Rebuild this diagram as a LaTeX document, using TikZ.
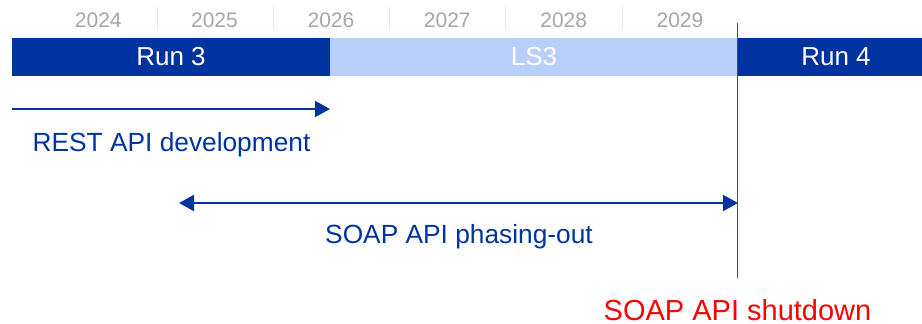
\documentclass[tikz,border=0pt]{standalone}
\usepackage{fontspec}
\setmainfont{Liberation Sans}
\usetikzlibrary{arrows.meta}
\definecolor{darkblue}{HTML}{0033A0}
\definecolor{lightblue}{HTML}{B9CFFB}
\definecolor{yeargray}{HTML}{A6A6A6}
\definecolor{sepgray}{HTML}{E6E6E6}
\definecolor{shutred}{RGB}{255,0,0}
\begin{document}
\begin{tikzpicture}[x=1pt,y=-1pt,
  yearlbl/.style={anchor=base,text=yeargray,inner sep=0pt,font=\fontsize{21}{24}\selectfont},
  sepline/.style={draw=sepgray,line width=1pt},
  bar/.style={inner sep=0pt,minimum height=38pt,text=white,font=\fontsize{26}{30}\selectfont},
  bluetxt/.style={anchor=base,inner sep=0pt,text=darkblue,font=\fontsize{26.3}{30}\selectfont},
  bluearrow/.style={draw=darkblue,line width=2pt,-{Triangle[length=15pt,width=16pt]}},
  bluedarrow/.style={draw=darkblue,line width=2pt,{Triangle[length=15pt,width=16pt]}-{Triangle[length=15pt,width=16pt]}}
]
\useasboundingbox (0,0) rectangle (922,324);
% year labels
\node[yearlbl] (y24) at (98.3,27.7) {2024};
\node[yearlbl] (y25) at (214.5,27.7) {2025};
\node[yearlbl] (y26) at (331,27.7) {2026};
\node[yearlbl] (y27) at (447.3,27.7) {2027};
\node[yearlbl] (y28) at (563.7,27.7) {2028};
\node[yearlbl] (y29) at (680,27.7) {2029};
% separators
\foreach \i/\xx in {1/157,2/273,3/389,4/505.5,5/622}{
  \coordinate (st\i) at (\xx,7);
  \coordinate (sb\i) at (\xx,30);
  \draw[sepline] (st\i) -- (sb\i);
}
% bars
\node[bar,fill=darkblue,minimum width=318pt] (run3) at (171,57) {Run 3};
\node[bar,fill=lightblue,minimum width=408pt] (ls3) at (534,57) {LS3};
\node[bar,fill=darkblue,minimum width=184pt] (run4bar) at (830,57) {};
\node[inner sep=0pt,text=white,font=\fontsize{26}{30}\selectfont] (run4) at (836,57) {Run 4};
% REST arrow
\coordinate (rs) at (12,109);
\coordinate (re) at (330,109);
\draw[bluearrow] (rs) -- (re);
\node[bluetxt] (rest) at (171.5,151) {REST API development};
% SOAP arrow
\coordinate (ss) at (179,203);
\coordinate (se) at (738,203);
\draw[bluedarrow] (ss) -- (se);
\node[bluetxt] (soap) at (459,243) {SOAP API phasing-out};
% red line
\coordinate (rt) at (737.7,23);
\coordinate (rb) at (737.7,278);
\fill[red] ([xshift=-0.7pt]rt) rectangle ([xshift=0.7pt]rb);
\node[anchor=base,inner sep=0pt,text=shutred,font=\fontsize{29}{33}\selectfont] (shut) at (737.5,320) {SOAP API shutdown};
\end{tikzpicture}
\end{document}
